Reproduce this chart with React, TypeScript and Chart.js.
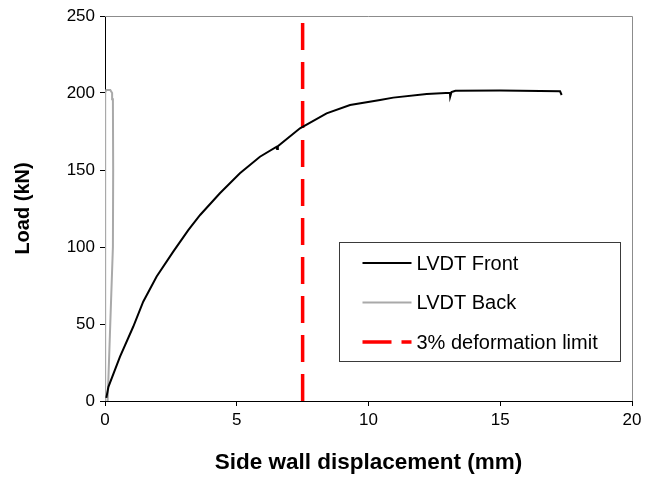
import React, { useEffect, useRef } from "react";
import { Chart, registerables } from "chart.js";

Chart.register(...registerables);

const frontDisp = [0.05, 0.13, 0.57, 1.07, 1.45, 1.96, 2.59, 3.16, 3.61, 4.36, 5.12, 5.88, 6.5, 6.53, 6.56, 7.4, 8.41, 9.3, 10.44, 10.94, 12.21, 13.09, 13.1, 13.15, 13.3, 14.99, 17.27, 17.33];
const frontLoad = [2, 9.2, 28.8, 48.2, 64.5, 80.8, 97.0, 111.0, 120.8, 134.9, 147.9, 158.6, 165.0, 163.6, 165.4, 177.1, 186.8, 192.2, 195.5, 197.0, 199.4, 200.2, 197.6, 200.6, 201.5, 201.6, 201.1, 198.7];

const backDisp = [0.1, 0.2, 0.3, 0.31, 0.3, 0.27, 0.2, 0.05, 0.0, 0.0, 0.0, 0.02];
const backLoad = [0, 50, 100, 150, 196, 200, 202, 202, 200, 100, 50, 0];

const limitDisp = [7.5, 7.5];
const limitLoad = [0, 250];

const seriesLabels = ["LVDT Front", "LVDT Back", "3% deformation limit"];
const xTitle = "Side wall displacement (mm)";
const yTitle = "Load (kN)";

const FONT = "'Liberation Sans', Arial, sans-serif";

const toPts = (xs: number[], ys: number[]) => xs.map((x, i) => ({ x, y: ys[i] }));

const frameAndLegend = {
  id: "frameAndLegend",
  afterDatasetsDraw(chart: any) {
    const { ctx, chartArea } = chart;
    ctx.save();
    // top & right plot border
    ctx.strokeStyle = "#8c8c8c";
    ctx.lineWidth = 1;
    ctx.beginPath();
    ctx.moveTo(chartArea.left, chartArea.top + 0.5);
    ctx.lineTo(chartArea.right + 0.5, chartArea.top + 0.5);
    ctx.lineTo(chartArea.right + 0.5, chartArea.bottom);
    ctx.stroke();

    // legend box
    const bx = chartArea.left + 234.5;
    const by = chartArea.top + 226.5;
    const bw = 281;
    const bh = 119;
    ctx.fillStyle = "#ffffff";
    ctx.fillRect(bx, by, bw, bh);
    ctx.strokeStyle = "#3a3a3a";
    ctx.lineWidth = 1;
    ctx.strokeRect(bx, by, bw, bh);

    const ds = chart.data.datasets;
    const rows = [20.5, 60, 99.5];
    ds.forEach((d: any, i: number) => {
      const y = by + rows[i];
      ctx.save();
      ctx.strokeStyle = d.borderColor;
      ctx.lineWidth = d.borderWidth;
      ctx.setLineDash(i === 2 ? [29, 10] : []);
      ctx.beginPath();
      ctx.moveTo(bx + 23, y);
      ctx.lineTo(bx + 72, y);
      ctx.stroke();
      ctx.restore();
      ctx.fillStyle = "#000";
      ctx.font = `20px ${FONT}`;
      ctx.textBaseline = "middle";
      ctx.textAlign = "left";
      ctx.fillText(d.label, bx + 77, y + 1);
    });
    ctx.restore();
  },
};

export default function App() {
  const ref = useRef<HTMLCanvasElement>(null);
  useEffect(() => {
    document.body.style.margin = "0";
    const chart = new Chart(ref.current!, {
      type: "scatter",
      data: {
        datasets: [
          {
            label: seriesLabels[0],
            data: toPts(frontDisp, frontLoad),
            showLine: true,
            borderColor: "#000000",
            borderWidth: 2,
            pointRadius: 0,
            tension: 0,
          },
          {
            label: seriesLabels[1],
            data: toPts(backDisp, backLoad),
            showLine: true,
            borderColor: "#a9a9a9",
            borderWidth: 2,
            pointRadius: 0,
            tension: 0,
          },
          {
            label: seriesLabels[2],
            data: toPts(limitDisp, limitLoad),
            showLine: true,
            borderColor: "#ff0000",
            borderWidth: 3.5,
            borderDash: [27, 12],
            pointRadius: 0,
          },
        ],
      },
      options: {
        responsive: false,
        animation: false,
        layout: { padding: { top: 16, right: 21, left: 0, bottom: 0 } },
        plugins: {
          legend: { display: false },
          tooltip: { enabled: false },
        },
        scales: {
          x: {
            type: "linear",
            min: 0,
            max: 20,
            ticks: { stepSize: 5, color: "#000", font: { family: FONT, size: 17 }, padding: 4 },
            grid: { drawOnChartArea: false, drawTicks: true, tickLength: 5, color: "#000" },
            border: { display: true, color: "#000", width: 1 },
            title: {
              display: true,
              text: xTitle,
              color: "#000",
              font: { family: FONT, size: 22.5, weight: "bold" },
              padding: { top: 0, bottom: 7 },
            },
            afterFit: (s: any) => {
              s.height = 82;
            },
          },
          y: {
            type: "linear",
            min: 0,
            max: 250,
            ticks: { stepSize: 50, color: "#000", font: { family: FONT, size: 17 }, padding: 5 },
            grid: { drawOnChartArea: false, drawTicks: true, tickLength: 5, color: "#000" },
            border: { display: true, color: "#000", width: 1 },
            title: {
              display: true,
              text: yTitle,
              color: "#000",
              font: { family: FONT, size: 20, weight: "bold" },
              padding: { top: 11, bottom: 0 },
            },
            afterFit: (s: any) => {
              s.width = 105;
            },
          },
        },
      },
      plugins: [frameAndLegend],
    });
    return () => chart.destroy();
  }, []);
  return <canvas ref={ref} width={653} height={483} style={{ display: "block" }} />;
}
